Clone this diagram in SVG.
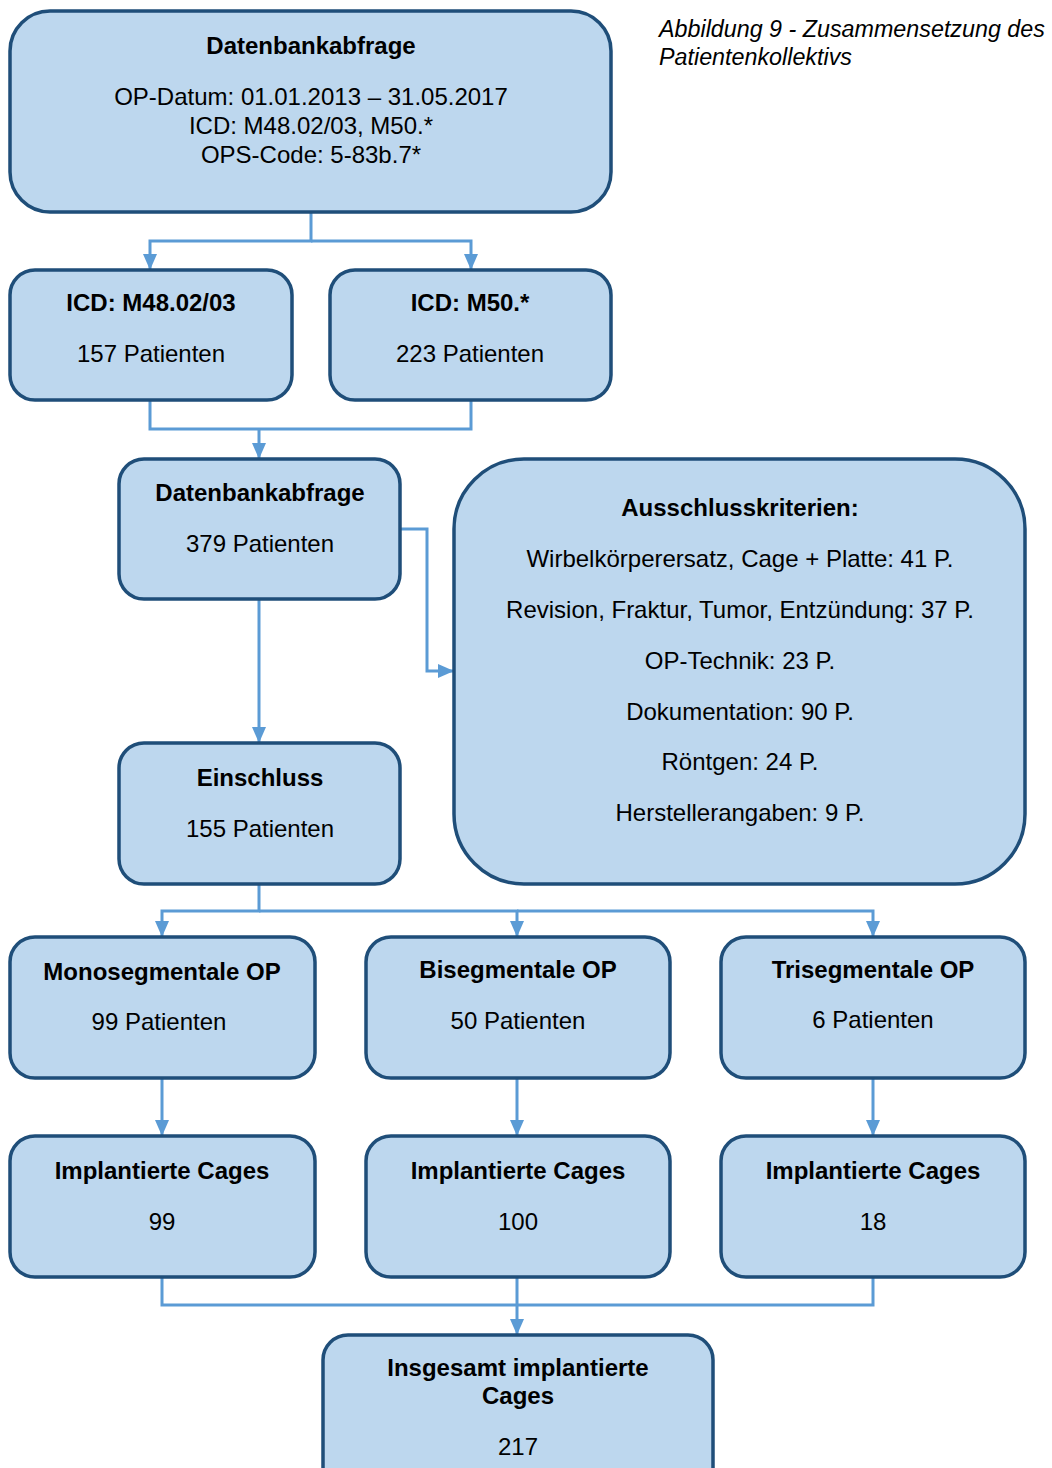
<svg xmlns="http://www.w3.org/2000/svg" width="1052" height="1468" viewBox="0 0 1052 1468">
<style>
.box{fill:#BDD7EE;stroke:#1F4E79;stroke-width:3.5}
.c{fill:none;stroke:#5B9BD5;stroke-width:3}
text{font-family:"Liberation Sans",Arial,sans-serif;font-size:24px;fill:#000;text-anchor:middle}
.b{font-weight:bold}
.cap{font-style:italic;text-anchor:start;font-size:23.3px}
</style>
<defs>
<marker id="ah" markerUnits="userSpaceOnUse" markerWidth="16" markerHeight="16" viewBox="0 0 16 16" refX="16" refY="8" orient="auto">
<path d="M0,1 L16,8 L0,15 Z" fill="#5B9BD5"/>
</marker>
</defs>
<rect width="1052" height="1468" fill="#fff"/>
<text class="cap" x="659" y="37">Abbildung 9 - Zusammensetzung des</text>
<text class="cap" x="659" y="65">Patientenkollektivs</text>
<g id="connectors">
<path class="c" d="M311,212 V241 H150 V270" marker-end="url(#ah)"/>
<path class="c" d="M311,241 H471 V270" marker-end="url(#ah)"/>
<path class="c" d="M150,400 V429 H471 V400"/>
<path class="c" d="M259,429 V459" marker-end="url(#ah)"/>
<path class="c" d="M400,529 H427 V671 H454" marker-end="url(#ah)"/>
<path class="c" d="M259,599 V743" marker-end="url(#ah)"/>
<path class="c" d="M259,884 V911 H162 V937" marker-end="url(#ah)"/>
<path class="c" d="M259,911 H517 V937" marker-end="url(#ah)"/>
<path class="c" d="M517,911 H873 V937" marker-end="url(#ah)"/>
<path class="c" d="M162,1078 V1136" marker-end="url(#ah)"/>
<path class="c" d="M517,1078 V1136" marker-end="url(#ah)"/>
<path class="c" d="M873,1078 V1136" marker-end="url(#ah)"/>
<path class="c" d="M162,1277 V1305 H873 V1277"/>
<path class="c" d="M517,1277 V1335" marker-end="url(#ah)"/>
</g>
<g id="n1">
<rect class="box" x="10" y="11" width="601" height="201" rx="40"/>
<text class="b" x="311" y="54">Datenbankabfrage</text>
<text x="311" y="105">OP-Datum: 01.01.2013 – 31.05.2017</text>
<text x="311" y="134">ICD: M48.02/03, M50.*</text>
<text x="311" y="163">OPS-Code: 5-83b.7*</text>
</g>
<g id="n2">
<rect class="box" x="10" y="270" width="282" height="130" rx="25"/>
<text class="b" x="151" y="311">ICD: M48.02/03</text>
<text x="151" y="362">157 Patienten</text>
</g>
<g id="n3">
<rect class="box" x="330" y="270" width="281" height="130" rx="25"/>
<text class="b" x="470" y="311">ICD: M50.*</text>
<text x="470" y="362">223 Patienten</text>
</g>
<g id="n4">
<rect class="box" x="119" y="459" width="281" height="140" rx="25"/>
<text class="b" x="260" y="501">Datenbankabfrage</text>
<text x="260" y="552">379 Patienten</text>
</g>
<g id="n5">
<rect class="box" x="454" y="459" width="571" height="425" rx="70"/>
<text class="b" x="740" y="516">Ausschlusskriterien:</text>
<text x="740" y="567">Wirbelkörperersatz, Cage + Platte: 41 P.</text>
<text x="740" y="618">Revision, Fraktur, Tumor, Entzündung: 37 P.</text>
<text x="740" y="669">OP-Technik: 23 P.</text>
<text x="740" y="720">Dokumentation: 90 P.</text>
<text x="740" y="770">Röntgen: 24 P.</text>
<text x="740" y="821">Herstellerangaben: 9 P.</text>
</g>
<g id="n6">
<rect class="box" x="119" y="743" width="281" height="141" rx="25"/>
<text class="b" x="260" y="786">Einschluss</text>
<text x="260" y="837">155 Patienten</text>
</g>
<g id="n7">
<rect class="box" x="10" y="937" width="305" height="141" rx="25"/>
<text class="b" x="162" y="980">Monosegmentale OP</text>
<text x="159" y="1030">99 Patienten</text>
</g>
<g id="n8">
<rect class="box" x="366" y="937" width="304" height="141" rx="25"/>
<text class="b" x="518" y="978">Bisegmentale OP</text>
<text x="518" y="1029">50 Patienten</text>
</g>
<g id="n9">
<rect class="box" x="721" y="937" width="304" height="141" rx="25"/>
<text class="b" x="873" y="978">Trisegmentale OP</text>
<text x="873" y="1028">6 Patienten</text>
</g>
<g id="n10">
<rect class="box" x="10" y="1136" width="305" height="141" rx="25"/>
<text class="b" x="162" y="1179">Implantierte Cages</text>
<text x="162" y="1230">99</text>
</g>
<g id="n11">
<rect class="box" x="366" y="1136" width="304" height="141" rx="25"/>
<text class="b" x="518" y="1179">Implantierte Cages</text>
<text x="518" y="1230">100</text>
</g>
<g id="n12">
<rect class="box" x="721" y="1136" width="304" height="141" rx="25"/>
<text class="b" x="873" y="1179">Implantierte Cages</text>
<text x="873" y="1230">18</text>
</g>
<g id="n13">
<rect class="box" x="323" y="1335" width="390" height="160" rx="25"/>
<text class="b" x="518" y="1376">Insgesamt implantierte</text>
<text class="b" x="518" y="1404">Cages</text>
<text x="518" y="1455">217</text>
</g>
</svg>
